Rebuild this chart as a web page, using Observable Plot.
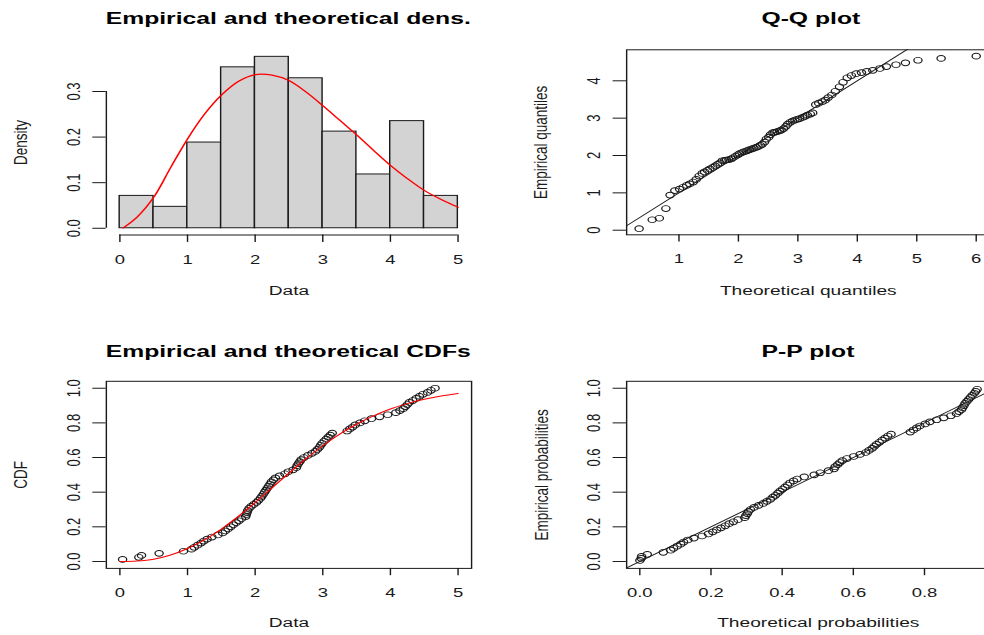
<!DOCTYPE html>
<html><head><meta charset="utf-8">
<script src="https://cdn.jsdelivr.net/npm/d3@7"></script>
<script src="https://cdn.jsdelivr.net/npm/@observablehq/plot@0.6"></script>
<style>
html,body{margin:0;padding:0;background:#fff;overflow:hidden;width:984px;height:635px;}
#stage{position:absolute;left:0;top:0;width:693px;height:635px;transform:scaleX(1.42);transform-origin:0 0;font-family:"Liberation Sans",Arial,sans-serif;}
.panel{position:absolute;}
.title{position:absolute;font-weight:bold;font-size:17.4px;line-height:17px;color:#000;white-space:nowrap;transform:translate(-50%,-50%);}
</style></head><body><div id="stage"></div>
<script>
// ---------- data ----------
const binEdges = [0, 0.5, 1, 1.5, 2, 2.5, 3, 3.5, 4, 4.5, 5];
const histDensity = [0.071, 0.047, 0.188, 0.353, 0.376, 0.329, 0.212, 0.118, 0.235, 0.071];

const densX = [0.05, 0.25, 0.5, 0.75, 1, 1.25, 1.5, 1.75, 2, 2.25, 2.5, 2.75, 3, 3.25, 3.5, 3.75, 4, 4.25, 4.5, 4.75, 5];
const densY = [0.001, 0.024, 0.068, 0.133, 0.196, 0.25, 0.292, 0.322, 0.337, 0.336, 0.324, 0.299, 0.269, 0.237, 0.205, 0.171, 0.138, 0.109, 0.083, 0.063, 0.046];

const cdfX = [0, 0.25, 0.5, 0.75, 1, 1.25, 1.5, 1.75, 2, 2.25, 2.5, 2.75, 3, 3.25, 3.5, 3.75, 4, 4.25, 4.5, 4.75, 5];
const cdfY = [0, 0.0025, 0.013, 0.0375, 0.075, 0.125, 0.187, 0.26, 0.34, 0.425, 0.51, 0.592, 0.668, 0.735, 0.792, 0.84, 0.88, 0.911, 0.936, 0.955, 0.97];

// sorted observations
const obs = [0.04,0.28,0.32,0.58,0.94,1.06,1.10,1.15,1.20,1.24,
  1.29,1.36,1.45,1.52,1.56,1.60,1.64,1.68,1.72,1.76,
  1.80,1.86,1.87,1.88,1.89,1.91,1.94,1.98,2.02,2.05,
  2.08,2.10,2.12,2.14,2.16,2.18,2.20,2.22,2.24,2.27,
  2.30,2.36,2.44,2.49,2.56,2.61,2.62,2.64,2.66,2.68,
  2.72,2.78,2.84,2.89,2.92,2.95,2.97,2.99,3.02,3.05,
  3.08,3.11,3.14,3.36,3.40,3.44,3.48,3.55,3.62,3.72,
  3.84,3.96,4.08,4.14,4.19,4.22,4.25,4.28,4.33,4.38,
  4.43,4.48,4.55,4.60,4.66];
// empirical CDF of each observation
const ecdfP = [.012,.024,.035,.047,.059,.071,.082,.094,.106,.118,
  .129,.141,.153,.165,.176,.188,.2,.212,.224,.235,
  .247,.259,.271,.282,.294,.306,.318,.329,.341,.353,
  .365,.376,.388,.4,.412,.424,.435,.447,.459,.471,
  .482,.494,.506,.518,.529,.541,.553,.565,.576,.588,
  .6,.612,.624,.635,.647,.659,.671,.682,.694,.706,
  .718,.729,.741,.753,.765,.776,.788,.8,.812,.824,
  .835,.847,.859,.871,.882,.894,.906,.918,.929,.941,
  .953,.965,.976,.988,1];
// plotting positions (empirical probabilities, P-P plot)
const empP = [.006,.018,.029,.041,.053,.065,.076,.088,.1,.112,
  .124,.135,.147,.159,.171,.182,.194,.206,.218,.229,
  .241,.253,.265,.276,.288,.3,.312,.324,.335,.347,
  .359,.371,.382,.394,.406,.418,.429,.441,.453,.465,
  .476,.488,.5,.512,.524,.535,.547,.559,.571,.582,
  .594,.606,.618,.629,.641,.653,.665,.676,.688,.7,
  .712,.724,.735,.747,.759,.771,.782,.794,.806,.818,
  .829,.841,.853,.865,.876,.888,.9,.912,.924,.935,
  .947,.959,.971,.982,.994];
// theoretical quantiles (Q-Q plot x)
const theoQ = [0.33,0.55,0.67,0.78,0.85,0.93,1.01,1.07,1.13,1.18,
  1.24,1.29,1.34,1.39,1.43,1.48,1.52,1.57,1.61,1.65,
  1.69,1.73,1.77,1.80,1.84,1.88,1.91,1.95,1.99,2.02,
  2.06,2.09,2.13,2.16,2.19,2.23,2.26,2.30,2.33,2.37,
  2.40,2.44,2.47,2.51,2.54,2.58,2.61,2.65,2.69,2.72,
  2.76,2.80,2.83,2.87,2.91,2.95,2.99,3.03,3.08,3.12,
  3.16,3.21,3.25,3.30,3.35,3.41,3.46,3.51,3.57,3.63,
  3.70,3.76,3.83,3.90,3.98,4.07,4.16,4.26,4.38,4.49,
  4.65,4.81,5.02,5.41,6.00];
// theoretical probabilities (P-P plot x)
const theoP = [0.0002,0.004,0.005,0.021,0.066,0.087,0.095,0.105,0.115,0.123,
  0.135,0.152,0.175,0.193,0.205,0.216,0.228,0.240,0.251,0.263,
  0.276,0.295,0.298,0.302,0.305,0.311,0.321,0.334,0.347,0.357,
  0.367,0.374,0.381,0.388,0.394,0.401,0.408,0.415,0.422,0.432,
  0.442,0.462,0.490,0.507,0.530,0.546,0.549,0.556,0.562,0.569,
  0.582,0.601,0.619,0.635,0.644,0.653,0.659,0.665,0.673,0.681,
  0.689,0.697,0.706,0.760,0.769,0.778,0.787,0.802,0.815,0.834,
  0.854,0.874,0.890,0.897,0.904,0.907,0.911,0.914,0.919,0.924,
  0.929,0.934,0.940,0.944,0.948];

const titles = ["Empirical and theoretical dens.", "Q-Q plot", "Empirical and theoretical CDFs", "P-P plot"];
const xLabels = ["Data", "Theoretical quantiles", "Data", "Theoretical probabilities"];
const yLabels = ["Density", "Empirical quantiles", "CDF", "Empirical probabilities"];
const densXTicks = [0, 1, 2, 3, 4, 5];
const densYTicks = [0, 0.1, 0.2, 0.3];
const qqXTicks = [1, 2, 3, 4, 5, 6];
const qqYTicks = [0, 1, 2, 3, 4];
const cdfXTicks = [0, 1, 2, 3, 4, 5];
const probTicks = [0, 0.2, 0.4, 0.6, 0.8, 1.0];
const ppXTicks = [0, 0.2, 0.4, 0.6, 0.8];

// ---------- drawing ----------
const FONT = "'Liberation Sans', Arial, sans-serif";
const INK = "#1a1a1a";
const stage = document.getElementById("stage");

function panel(o) {
  const marks = [];
  if (o.boxed) marks.push(Plot.frame({stroke: INK, strokeWidth: 1}));
  else {
    marks.push(Plot.ruleY([o.yDomain[0]], {x1: o.xTicks[0], x2: o.xTicks[o.xTicks.length - 1], stroke: INK}));
    marks.push(Plot.ruleX([o.xDomain[0]], {y1: o.yTicks[0], y2: o.yTicks[o.yTicks.length - 1], stroke: INK}));
  }
  marks.push(...o.marks);
  marks.push(Plot.axisX({ticks: o.xTicks, label: null, tickSize: 7.3, tickPadding: 12, tickFormat: o.xFmt, fontSize: 13, stroke: INK, fill: INK}));
  marks.push(Plot.axisY({ticks: o.yTicks, label: null, tickSize: 9.4, tickPadding: 9.5, tickRotate: -90, tickFormat: o.yFmt, fontSize: 13, stroke: INK, fill: INK}));
  marks.push(Plot.text([o.xLabel], {text: d => d, frameAnchor: "bottom", textAnchor: "middle", dy: o.xLabelDy, fontSize: 13.5, fill: INK}));
  marks.push(Plot.text([o.yLabel], {text: d => d, frameAnchor: "left", textAnchor: "middle", rotate: -90, dx: o.yLabelDx, fontSize: 13.5, fill: INK}));
  const svg = Plot.plot({
    width: o.width, height: o.height,
    marginLeft: o.m[0], marginRight: o.m[1], marginTop: o.m[2], marginBottom: o.m[3],
    style: {fontFamily: FONT, fontSize: "13px", background: "none", overflow: "visible", color: INK},
    x: {domain: o.xDomain, axis: null, label: null},
    y: {domain: o.yDomain, axis: null, label: null},
    marks
  });
  svg.classList.add("panel");
  svg.style.left = o.left + "px";
  svg.style.top = o.top + "px";
  stage.appendChild(svg);
}

function addTitle(text, cx, cy) {
  const d = document.createElement("div");
  d.className = "title";
  d.textContent = text;
  d.style.left = cx + "px";
  d.style.top = cy + "px";
  stage.appendChild(d);
}

const f1 = d3.format(".1f");
const f0 = d3.format("d");

// Density histogram
const densRows = densX.map((x, i) => ({x, y: densY[i]}));
panel({
  left: 0, top: 0, width: 346, height: 317, m: [74.4, 14.4, 49.5, 82.4],
  xDomain: [-0.2, 5.2], yDomain: [-0.015, 0.391],
  xTicks: densXTicks, yTicks: densYTicks, xFmt: f0, yFmt: f1,
  xLabel: xLabels[0], yLabel: yLabels[0], xLabelDy: 59.5, yLabelDx: -60.3, boxed: false,
  marks: [
    Plot.rectY(histDensity, {x1: (d, i) => binEdges[i], x2: (d, i) => binEdges[i + 1], y: d => d, fill: "#d3d3d3", stroke: INK, strokeWidth: 1, insetLeft: 0, insetRight: 0}),
    Plot.line(densRows, {x: "x", y: "y", stroke: "#ff0000", strokeWidth: 1.2, curve: "catmull-rom"})
  ]
});

// Q-Q plot
const qqXDomain = [0.12, 6.23];
const qqRows = theoQ.map((q, i) => ({q, e: obs[i]}));
panel({
  left: 346, top: 0, width: 360, height: 317, m: [94.8, 9.4, 49.3, 82.7],
  xDomain: qqXDomain, yDomain: [-0.123, 4.83],
  xTicks: qqXTicks, yTicks: qqYTicks, xFmt: f0, yFmt: f0,
  xLabel: xLabels[1], yLabel: yLabels[1], xLabelDy: 59.8, yLabelDx: -60.5, boxed: true,
  marks: [
    Plot.line([qqXDomain[0], qqXDomain[1]], {x: d => d, y: d => d, stroke: INK, strokeWidth: 0.9, clip: true}),
    Plot.dot(qqRows, {x: "q", y: "e", r: 2.9, stroke: INK, fill: "none", strokeWidth: 0.9})
  ]
});

// Empirical and theoretical CDFs
const cdfRows = cdfX.map((x, i) => ({x, y: cdfY[i]}));
const ecdfRows = obs.map((x, i) => ({x, p: ecdfP[i]}));
panel({
  left: 0, top: 317, width: 346, height: 318, m: [74.4, 14.4, 63.8, 67.1],
  xDomain: [-0.2, 5.2], yDomain: [-0.04, 1.04],
  xTicks: cdfXTicks, yTicks: probTicks, xFmt: f0, yFmt: f1,
  xLabel: xLabels[2], yLabel: yLabels[2], xLabelDy: 58.3, yLabelDx: -60.5, boxed: true,
  marks: [
    Plot.dot(ecdfRows, {x: "x", y: "p", r: 2.9, stroke: INK, fill: "none", strokeWidth: 0.9}),
    Plot.line(cdfRows, {x: "x", y: "y", stroke: "#ff0000", strokeWidth: 1, curve: "catmull-rom"})
  ]
});

// P-P plot
const ppXDomain = [-0.037, 1.04];
const ppRows = theoP.map((p, i) => ({t: p, e: empP[i]}));
panel({
  left: 346, top: 317, width: 380, height: 318, m: [94.8, 15.3, 63.8, 67.1],
  xDomain: ppXDomain, yDomain: [-0.04, 1.04],
  xTicks: ppXTicks, yTicks: probTicks, xFmt: f1, yFmt: f1,
  xLabel: xLabels[3], yLabel: yLabels[3], xLabelDy: 58.8, yLabelDx: -59.7, boxed: true,
  marks: [
    Plot.line([ppXDomain[0], ppXDomain[1]], {x: d => d, y: d => d, stroke: INK, strokeWidth: 0.9, clip: true}),
    Plot.dot(ppRows, {x: "t", y: "e", r: 2.9, stroke: INK, fill: "none", strokeWidth: 0.9})
  ]
});

addTitle(titles[0], 203, 18.3);
addTitle(titles[1], 571, 18.3);
addTitle(titles[2], 203, 350.7);
addTitle(titles[3], 569, 350.7);
</script></body></html>
